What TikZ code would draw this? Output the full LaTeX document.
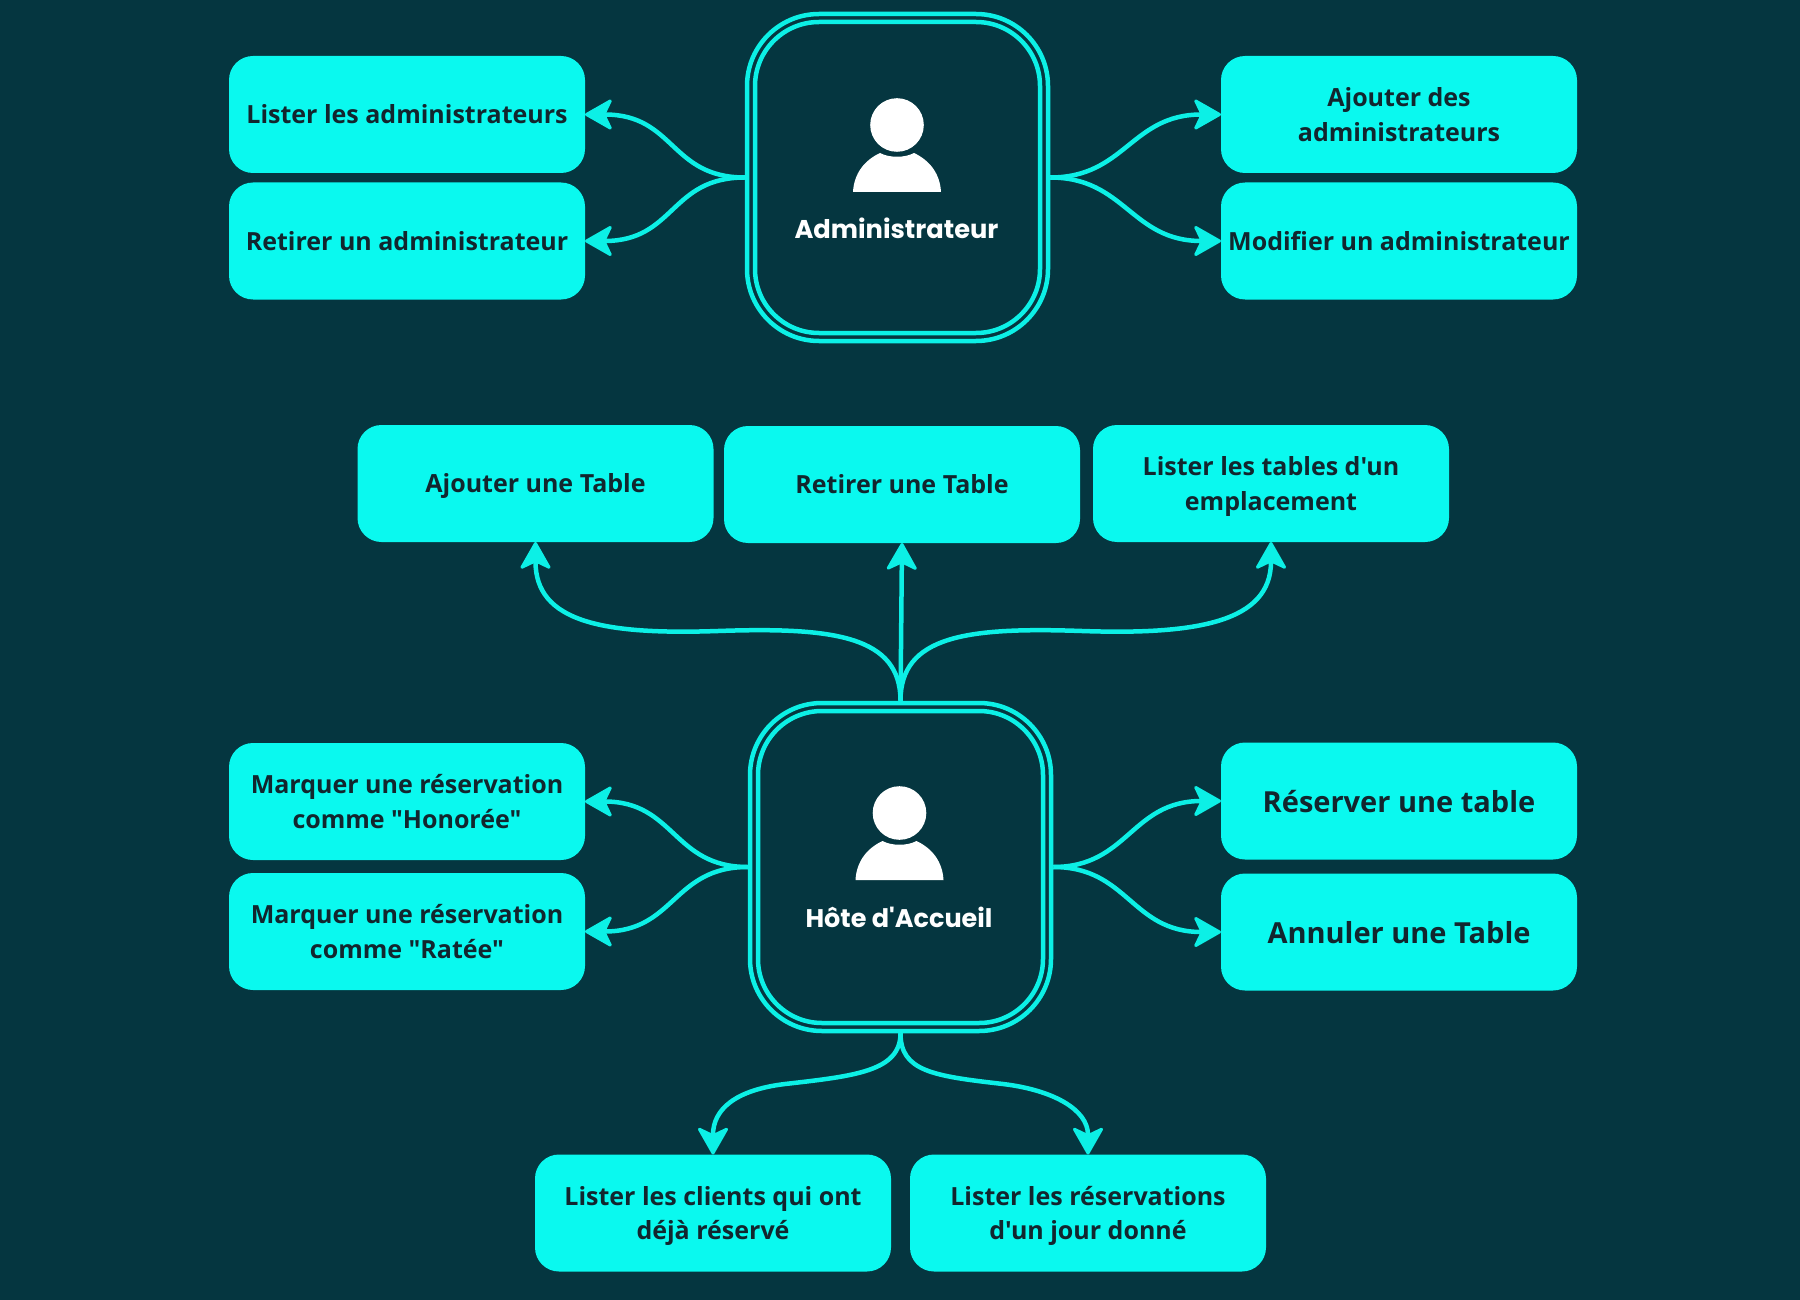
\documentclass[tikz,border=0pt]{standalone}
\usepackage{fontspec}
\setmainfont{Open Sans}[Ligatures=TeXOff]
\newfontfamily\titlefont{Poppins}
\usetikzlibrary{arrows.meta}
\definecolor{bgc}{HTML}{053640}
\definecolor{boxc}{HTML}{0AF9EF}
\definecolor{linec}{HTML}{0CF0E6}
\definecolor{inkc}{HTML}{12262E}
\tikzset{
  task/.style={fill=boxc,text=inkc,rounded corners=24pt,minimum width=356pt,minimum height=117pt,
    outer sep=0pt,inner sep=0pt,align=center,text depth=0pt,font=\fontsize{25}{34.5}\selectfont\bfseries},
  bigtask/.style={task,font=\fontsize{29}{36}\selectfont\bfseries},
  frameout/.style={draw=linec,line width=4.5pt,rounded corners=72pt,outer sep=2.25pt,inner sep=0pt,fill=none},
  framein/.style={draw=linec,line width=4.5pt,rounded corners=64pt,outer sep=0pt,inner sep=0pt,fill=none},
  title/.style={text=white,inner sep=0pt,font=\titlefont\bfseries},
  link/.style={draw=linec,line width=4.5pt,-{Stealth[round,length=30pt,width=34pt,inset=8pt,line width=3pt]}},
  person/.pic={
    \fill[white] (0,0) circle (26.8);
    \fill[white] (-44,67) .. controls (-43,48) and (-32,35) .. (-17,28)
       .. controls (-8,33) and (8,33) .. (17,28)
       .. controls (32,35) and (43,48) .. (44,67) -- cycle;
  }
}
\begin{document}
\begin{tikzpicture}[x=1pt,y=-1pt]
\useasboundingbox (0,0) rectangle (1800,1300);
\fill[bgc] (0,0) rectangle (1800,1300);
% administrator
\node[frameout,minimum width=301pt,minimum height=327pt] (admin) at (897.5,177.5) {};
\node[framein,minimum width=285pt,minimum height=311pt] (adminin) at (admin.center) {};
\pic at (897,125) {person};
\node[title,font=\titlefont\bfseries\fontsize{25.7}{30}\selectfont] (admintitle) at (896.5,228) {Administrateur};
\node[task] (a1) at (407,114.5) {Lister les administrateurs};
\node[task] (a2) at (407,241) {Retirer un administrateur};
\node[task] (a3) at (1399,114.5) {Ajouter des\\administrateurs};
\node[task] (a4) at (1399,241) {Modifier un administrateur};
\draw[link] (admin.west) .. controls +(-75,0) and +(90,0) .. (a1.east);
\draw[link] (admin.west) .. controls +(-75,0) and +(90,0) .. (a2.east);
\draw[link] (admin.east) .. controls +(75,0) and +(-90,0) .. (a3.west);
\draw[link] (admin.east) .. controls +(75,0) and +(-90,0) .. (a4.west);
% tables
\node[task] (t1) at (535.5,483.5) {Ajouter une Table};
\node[task] (t2) at (902,484.5) {Retirer une Table};
\node[task] (t3) at (1271,483.5) {Lister les tables d'un\\emplacement};
% host
\node[frameout,minimum width=301pt,minimum height=328pt] (host) at (900.5,867) {};
\node[framein,minimum width=285pt,minimum height=312pt] (hostin) at (host.center) {};
\pic at (899.5,813) {person};
\node[title,font=\titlefont\bfseries\fontsize{25.5}{30}\selectfont] (hosttitle) at (899,917) {Hôte d'Accueil};
\node[task] (h1) at (407,801.5) {Marquer une réservation\\comme "Honorée"};
\node[task] (h2) at (407,931.5) {Marquer une réservation\\comme "Ratée"};
\node[bigtask] (h3) at (1399,801) {Réserver une table};
\node[bigtask] (h4) at (1399,932) {Annuler une Table};
\node[task] (b1) at (713,1213) {Lister les clients qui ont\\déjà réservé};
\node[task] (b2) at (1088,1213) {Lister les réservations\\d'un jour donné};
\coordinate (mt1) at (718,631);
\coordinate (mt3) at (1082,631);
\coordinate (mb1) at (785,1084);
\coordinate (mb2) at (1003,1084);
\draw[link] (host.north) .. controls +(0,-65) and +(115,-4) .. (mt1) .. controls +(-115,4) and +(0,80) .. (t1.south);
\draw[link] (host.north) -- (t2.south);
\draw[link] (host.north) .. controls +(0,-65) and +(-115,-4) .. (mt3) .. controls +(115,4) and +(0,80) .. (t3.south);
\draw[link] (host.west) .. controls +(-75,0) and +(90,0) .. (h1.east);
\draw[link] (host.west) .. controls +(-75,0) and +(90,0) .. (h2.east);
\draw[link] (host.east) .. controls +(75,0) and +(-90,0) .. (h3.west);
\draw[link] (host.east) .. controls +(75,0) and +(-90,0) .. (h4.west);
\draw[link] (host.south) .. controls +(0,38) and +(70,-8) .. (mb1) .. controls +(-50,6) and +(0,-45) .. (b1.north);
\draw[link] (host.south) .. controls +(0,38) and +(-70,-8) .. (mb2) .. controls +(50,6) and +(0,-45) .. (b2.north);
\end{tikzpicture}
\end{document}
